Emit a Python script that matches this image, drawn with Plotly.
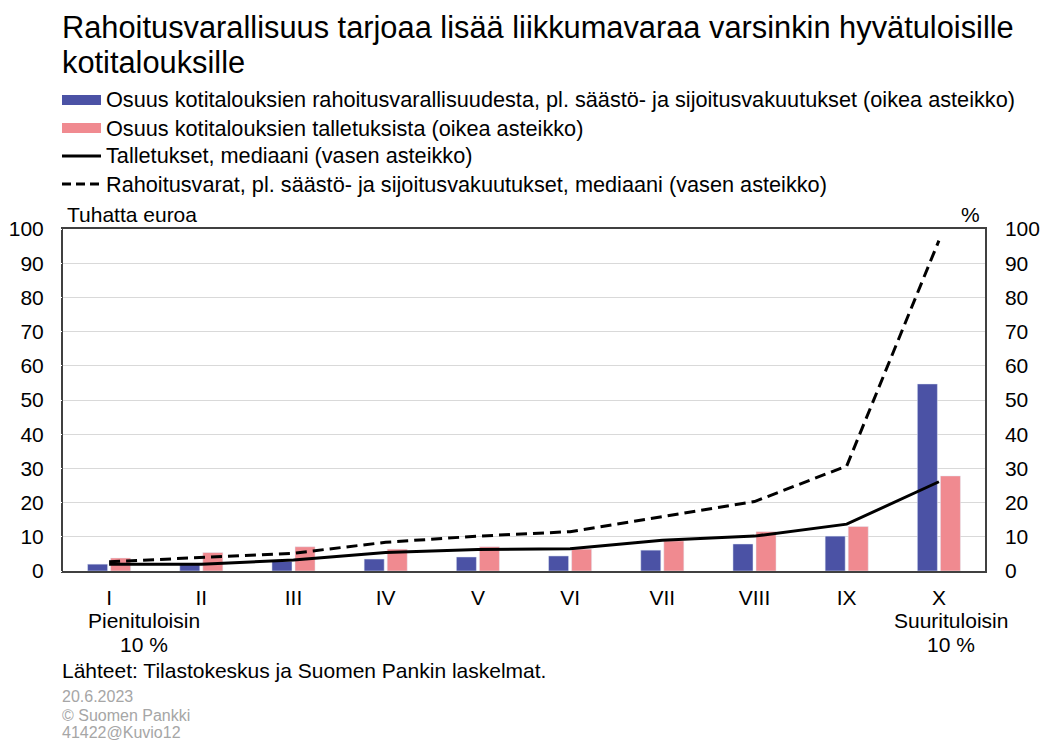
import plotly.graph_objects as go

# income deciles
deciles = ['I', 'II', 'III', 'IV', 'V', 'VI', 'VII', 'VIII', 'IX', 'X']
# extra text under the first and last decile
end_labels = {'I': ['Pienituloisin', '10 %'], 'X': ['Suurituloisin', '10 %']}
end_shift = {'I': 35, 'X': 12}

# share of financial assets, % (right axis)
share_assets = [2.0, 2.0, 2.8, 3.5, 4.1, 4.4, 6.1, 7.9, 10.2, 54.7]
# share of deposits, % (right axis)
share_deposits = [3.8, 5.4, 7.1, 6.4, 7.1, 6.4, 8.8, 11.5, 13.0, 27.8]
# median deposits, thousand euros (left axis)
deposits_median = [2.0, 2.0, 3.2, 5.4, 6.3, 6.5, 9.0, 10.2, 13.7, 26.1]
# median financial assets, thousand euros (left axis)
assets_median = [2.7, 4.0, 5.2, 8.4, 10.2, 11.5, 15.9, 20.3, 30.7, 96.6]

names = [
    'Osuus kotitalouksien rahoitusvarallisuudesta, pl. säästö- ja sijoitusvakuutukset (oikea asteikko)',
    'Osuus kotitalouksien talletuksista (oikea asteikko)',
    'Talletukset, mediaani (vasen asteikko)',
    'Rahoitusvarat, pl. säästö- ja sijoitusvakuutukset, mediaani (vasen asteikko)',
]
title_lines = ['Rahoitusvarallisuus tarjoaa lisää liikkumavaraa varsinkin hyvätuloisille',
               'kotitalouksille']
footer_lines = ['20.6.2023', '© Suomen Pankki', '41422@Kuvio12']

FONT = 'Liberation Sans, Arial, sans-serif'
BLUE = '#4B52A5'
PINK = '#F08A90'
DASH = '11px,6px'

W, H = 1042, 742
L, R, T, B = 63, 57, 229, 171


def px_x(px):
    return (px - L) / (W - L - R)


def px_y(py):
    return (H - B - py) / (H - T - B)


def text(s, x, y, size, xanchor='left', color='black', xref='paper', xshift=0):
    return dict(text=s, x=x, y=px_y(y), xref=xref, yref='paper', xanchor=xanchor,
                yanchor='middle', showarrow=False, xshift=xshift,
                font=dict(family=FONT, size=size, color=color))


fig = go.Figure()
fig.add_trace(go.Bar(x=deciles, y=share_assets, yaxis='y', marker_color=BLUE, name=names[0]))
fig.add_trace(go.Bar(x=deciles, y=share_deposits, yaxis='y', marker_color=PINK, name=names[1]))
fig.add_trace(go.Scatter(x=deciles, y=deposits_median, yaxis='y2', mode='lines',
                         line=dict(color='black', width=3), name=names[2]))
fig.add_trace(go.Scatter(x=deciles, y=assets_median, yaxis='y2', mode='lines',
                         line=dict(color='black', width=3, dash=DASH), name=names[3]))

axis_font = dict(family=FONT, size=21, color='black')

# hand-drawn legend, like the original
shapes = []
annotations = []
legend_rows = [100, 128, 156, 184]
for i, (name, row) in enumerate(zip(names, legend_rows)):
    if i < 2:
        shapes.append(dict(type='rect', xref='paper', yref='paper',
                           x0=px_x(62), x1=px_x(101), y0=px_y(row + 5), y1=px_y(row - 5),
                           fillcolor=[BLUE, PINK][i], line_width=0))
    else:
        shapes.append(dict(type='line', xref='paper', yref='paper',
                           x0=px_x(62), x1=px_x(101), y0=px_y(row), y1=px_y(row),
                           line=dict(color='black', width=3,
                                     dash='solid' if i == 2 else '9px,5px')))
    annotations.append(text(name, px_x(104), row, 21.7))

for line, y in zip(title_lines, [27, 62]):
    annotations.append(text(line, px_x(60), y, 30.8))

annotations += [
    text('Tuhatta euroa', px_x(65), 215, 21),
    text('%', px_x(982), 215, 21, xanchor='right'),
    text('Lähteet: Tilastokeskus ja Suomen Pankin laskelmat.', px_x(60), 670, 21),
]
for line, y in zip(footer_lines, [696, 715, 732]):
    annotations.append(text(line, px_x(60), y, 16, color='#a6a6a6'))

for cat, lines in end_labels.items():
    for line, y in zip(lines, [620, 644]):
        annotations.append(text(line, cat, y, 21, xanchor='center', xref='x',
                                xshift=end_shift[cat]))

fig.update_layout(
    width=W, height=H,
    margin=dict(l=L, r=R, t=T, b=B, autoexpand=False),
    paper_bgcolor='white', plot_bgcolor='white',
    font=dict(family=FONT, color='black'),
    barmode='group', bargap=0.5, bargroupgap=0.13,
    showlegend=False,
    xaxis=dict(
        type='category', range=[-0.5, len(deciles) - 0.5], autorange=False,
        tickfont=axis_font, showline=True, linecolor='#404040', linewidth=1.5,
        mirror=True, showgrid=False, ticks='outside', ticklen=7, tickcolor='white',
    ),
    yaxis=dict(
        side='right', range=[0, 100], dtick=10, tickfont=axis_font,
        showgrid=True, gridcolor='#d9d9d9', gridwidth=1,
        showline=True, linecolor='#404040', linewidth=1.5, mirror=True,
        zeroline=False, ticks='outside', ticklen=14, tickcolor='white',
    ),
    yaxis2=dict(
        side='left', overlaying='y', range=[0, 100], dtick=10, tickfont=axis_font,
        showgrid=False, zeroline=False, ticks='outside', ticklen=14, tickcolor='white',
    ),
    shapes=shapes,
    annotations=annotations,
)

fig.write_html('out.html', config={'displayModeBar': False},
               post_script="document.body.style.margin='0';")
